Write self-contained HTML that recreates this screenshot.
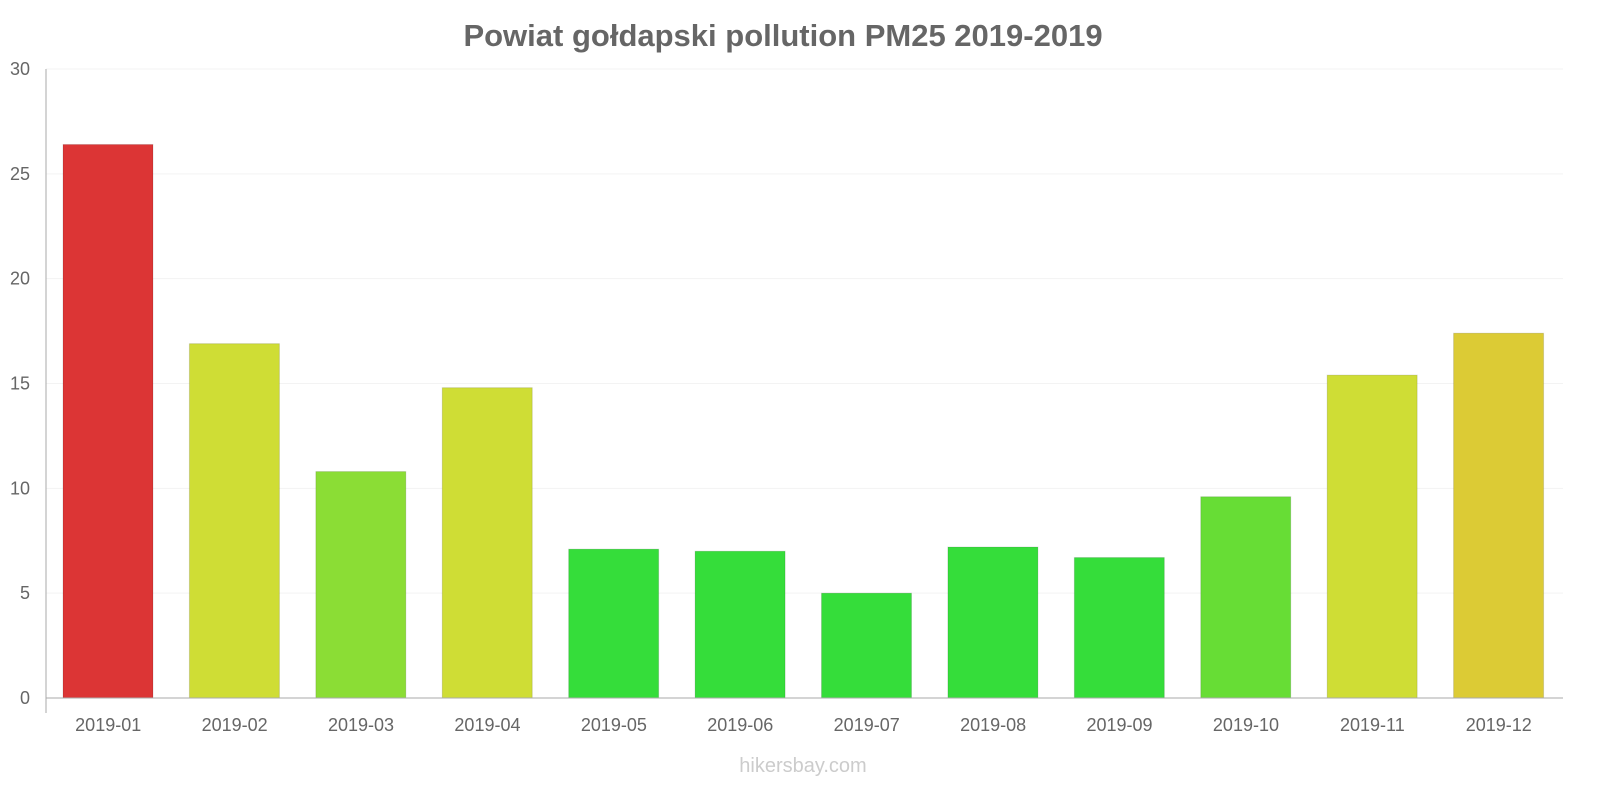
<!DOCTYPE html>
<html><head><meta charset="utf-8"><style>
body{margin:0;background:#fff;font-family:"Liberation Sans",sans-serif}
</style></head><body>
<svg id="c" width="1600" height="800" xmlns="http://www.w3.org/2000/svg">
<text x="783" y="46" text-anchor="middle" font-size="31" font-weight="bold" fill="#666">Powiat gołdapski pollution PM25 2019-2019</text>
<text x="803" y="772" text-anchor="middle" font-size="20" fill="#ccc">hikersbay.com</text>
<g id="grid"></g><g id="bars"></g><g id="axes"></g>
</svg>
<script>
const categories=["2019-01","2019-02","2019-03","2019-04","2019-05","2019-06","2019-07","2019-08","2019-09","2019-10","2019-11","2019-12"];
const values=[26.4,16.9,10.8,14.8,7.1,7.0,5.0,7.2,6.7,9.6,15.4,17.4];
const colors=["#dc3535","#cfdd35","#8bdd35","#cfdd35","#35dd3a","#35dd3a","#35dd3a","#35dd3a","#35dd3a","#67dd35","#cfdd35","#dccb35"];
const ticks=[0,5,10,15,20,25,30];
const NS="http://www.w3.org/2000/svg";
const x0=46,x1=1563,y0=698,yTop=69,yMax=30;
const band=(x1-x0)/categories.length;
const y=v=>y0-(y0-yTop)*v/yMax;
const xb=i=>x0+band*i;
function mk(t,a,p){const e=document.createElementNS(NS,t);for(const k in a)e.setAttribute(k,a[k]);p.appendChild(e);return e;}
const grid=document.getElementById('grid'),bars=document.getElementById('bars'),axes=document.getElementById('axes');
ticks.forEach(t=>{
  const l=mk('line',{x1:x0,x2:x1,y1:y(t),y2:y(t),stroke:'#f3f3f3'},grid);
  
  
  const tx=mk('text',{x:30,y:y(t)+6,'text-anchor':'end','font-size':18,fill:'#666'},axes);
  tx.textContent=t;
  
  
});
values.forEach((v,i)=>{
  const r=mk('rect',{x:xb(i)+17,y:y(v),width:90,height:y0-y(v),fill:colors[i],stroke:'rgba(0,0,0,0.12)'},bars);
  
  
  const tx=mk('text',{x:xb(i)+band/2-1,y:731,'text-anchor':'middle','font-size':18,fill:'#666'},axes);
  tx.textContent=categories[i];
  
  
});
const ya=mk('line',{x1:x0,x2:x0,y1:yTop,y2:713,stroke:'#aaa'},axes);


const xa=mk('line',{x1:x0,x2:x1,y1:y0,y2:y0,stroke:'#aaa'},axes);


</script>
</body></html>
